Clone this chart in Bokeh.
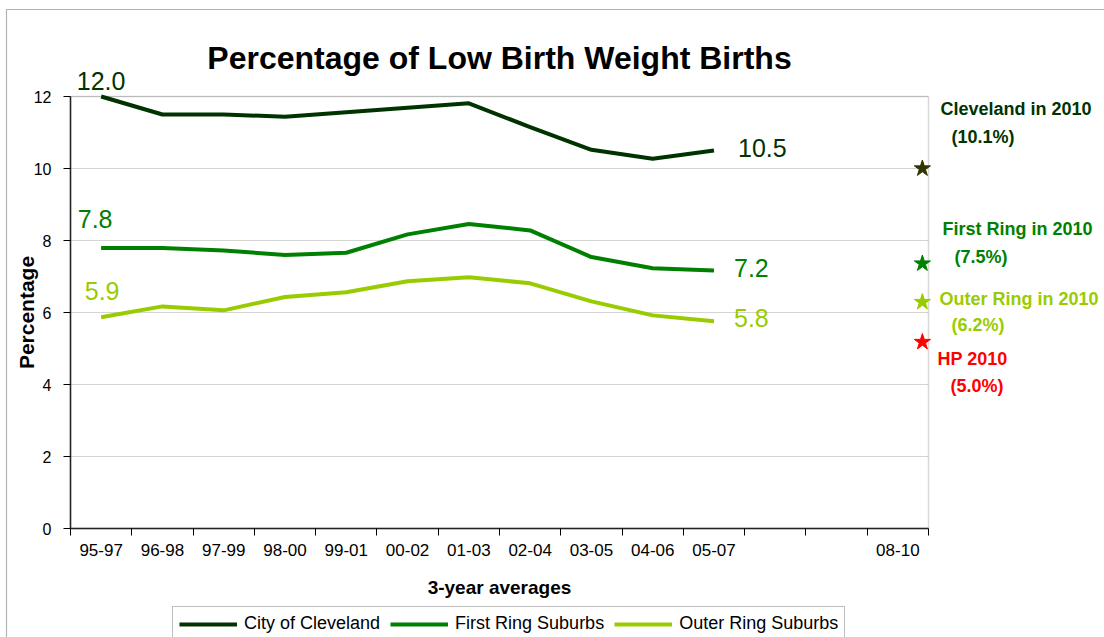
from bokeh.plotting import figure
from bokeh.models import (FixedTicker, Label, Legend, LegendItem, BoxAnnotation,
                          ColumnDataSource, Range1d)
from bokeh.transform import dodge
from bokeh.embed import file_html
from bokeh.resources import INLINE

# ---------------- data ----------------
periods = ["95-97", "96-98", "97-99", "98-00", "99-01", "00-02",
           "01-03", "02-04", "03-05", "04-06", "05-07"]
axis_labels = periods + ["", "", "08-10"]
target_label = "08-10"

cleveland = [12.0, 11.5, 11.5, 11.44, 11.56, 11.69, 11.81, 11.15, 10.52, 10.27, 10.5]
first_ring = [7.79, 7.79, 7.72, 7.60, 7.66, 8.17, 8.46, 8.28, 7.54, 7.23, 7.17]
outer_ring = [5.87, 6.17, 6.06, 6.43, 6.56, 6.87, 6.98, 6.81, 6.31, 5.92, 5.76]

series_names = ["City of Cleveland", "First Ring Suburbs", "Outer Ring Suburbs"]

star_values = [10.0, 7.36, 6.29, 5.18]
star_titles = ["Cleveland in 2010", "First Ring in 2010", "Outer Ring in 2010", "HP 2010"]
star_pcts = ["(10.1%)", "(7.5%)", "(6.2%)", "(5.0%)"]

y_ticks = [0, 2, 4, 6, 8, 10, 12]

# ---------------- styles / layout ----------------
DARK = "#003300"
GREEN = "#008000"
LIME = "#99CC00"
RED = "#FF0000"
STAR_DARK = "#333300"
FONT = "Liberation Sans"

W, H = 1104, 637
# plot-area box on the canvas (pixels)
PA_L, PA_R, PA_T, PA_B = 70, 928, 96, 528
n_cat = len(axis_labels)
X0, X1 = -0.5, n_cat - 0.5
Y0, Y1 = y_ticks[0], y_ticks[-1]
PX_X = (PA_R - PA_L) / (X1 - X0)
PX_Y = (PA_B - PA_T) / (Y1 - Y0)


def xd(px):
    return X0 + (px - PA_L) / PX_X


def yd(py):
    return Y0 + (PA_B - py) / PX_Y


x_idx = list(range(len(periods)))
target_idx = axis_labels.index(target_label)

p = figure(width=W, height=H, output_backend="svg", toolbar_location=None,
           x_range=Range1d(xd(0), xd(W)), y_range=Range1d(yd(H), yd(0)),
           min_border=0)
p.title = None
p.background_fill_color = "white"
p.border_fill_color = "white"
p.outline_line_color = None

# axes placed inside the canvas-wide frame
p.yaxis.fixed_location = X0
p.yaxis.bounds = (Y0, Y1)
p.yaxis.ticker = FixedTicker(ticks=y_ticks)
p.yaxis.major_tick_out = 7
p.yaxis.major_tick_in = 0
p.yaxis.minor_tick_line_color = None
p.yaxis.major_label_standoff = 12
p.yaxis.major_label_text_font = FONT
p.yaxis.major_label_text_font_size = "16px"
p.yaxis.major_label_text_color = "black"
p.yaxis.axis_label = "Percentage"
p.yaxis.axis_label_text_font = FONT
p.yaxis.axis_label_text_font_size = "21px"
p.yaxis.axis_label_text_font_style = "bold"
p.yaxis.axis_label_text_color = "black"
p.yaxis.axis_label_standoff = -7

p.xaxis.fixed_location = Y0
p.xaxis.bounds = (X0, X1)
p.xaxis.ticker = FixedTicker(ticks=x_idx + [target_idx],
                             minor_ticks=[k - 0.5 for k in range(n_cat + 1)])
p.xaxis.major_label_overrides = {i: axis_labels[i] for i in x_idx + [target_idx]}
p.xaxis.major_tick_out = 0
p.xaxis.major_tick_in = 0
p.xaxis.minor_tick_out = 7
p.xaxis.minor_tick_in = 0
p.xaxis.minor_tick_line_color = "black"
p.xaxis.major_label_standoff = 8
p.xaxis.major_label_text_font = FONT
p.xaxis.major_label_text_font_size = "17px"
p.xaxis.major_label_text_color = "black"
p.xaxis.axis_label = "3-year averages"
p.xaxis.axis_label_text_font = FONT
p.xaxis.axis_label_text_font_size = "19px"
p.xaxis.axis_label_text_font_style = "bold"
p.xaxis.axis_label_text_color = "black"
p.xaxis.axis_label_standoff = 18

for ax in (p.xaxis[0], p.yaxis[0]):
    ax.axis_line_color = "#222222"
    ax.axis_line_width = 1.5
    ax.major_tick_line_color = "black"

p.xgrid.visible = False
p.ygrid.grid_line_color = "#d4d4d4"
p.ygrid.grid_line_width = 1
try:
    p.ygrid.cross_bounds = (X0, X1)
except Exception:
    p.ygrid.visible = False
    p.segment(x0=[X0] * len(y_ticks), x1=[X1] * len(y_ticks), y0=y_ticks, y1=y_ticks,
              line_color="#d4d4d4", line_width=1, level="underlay")

# plot-area border (gray)
p.add_layout(BoxAnnotation(left=X0, right=X1, bottom=Y0, top=Y1, fill_alpha=0,
                           line_color="#808080", line_width=1.5, level="underlay"))

# outer chart border (black)
p.add_layout(BoxAnnotation(left=xd(6), right=xd(W + 50), top=yd(9), bottom=yd(H + 50),
                           fill_alpha=0, line_color="black", line_width=1.2,
                           level="underlay"))

# title
p.add_layout(Label(x=(X0 + X1) / 2, y=yd(57), text="Percentage of Low Birth Weight Births",
                   text_align="center", text_baseline="middle", text_font=FONT,
                   text_font_size="32px", text_font_style="bold", text_color="black"))

# lines
renderers = []
for vals, col in zip([cleveland, first_ring, outer_ring], [DARK, GREEN, LIME]):
    r = p.line(x_idx, vals, line_width=4, line_color=col, line_join="round")
    renderers.append(r)

legend = Legend(items=[LegendItem(label=n, renderers=[r]) for n, r in zip(series_names, renderers)],
                orientation="horizontal", location=(172, -4),
                glyph_width=58, glyph_height=20, label_standoff=7, spacing=10,
                padding=6, margin=0, border_line_color="#808080", border_line_width=1.5,
                label_text_font=FONT, label_text_font_size="18px", label_text_color="black",
                background_fill_color="white")
p.add_layout(legend)

# data labels (first and last points)
LBL = 25
first_offsets = [(0, 15.5), (-6, 29), (1, 26)]
last_offsets = [(24, 3), (20, 2.5), (20, 3)]
for vals, col, fo, lo in zip([cleveland, first_ring, outer_ring], [DARK, GREEN, LIME],
                             first_offsets, last_offsets):
    p.add_layout(Label(x=0, y=vals[0], text=f"{vals[0]:.1f}", x_offset=fo[0], y_offset=fo[1],
                       text_align="center", text_baseline="middle", text_font=FONT,
                       text_font_size=f"{LBL}px", text_color=col))
    p.add_layout(Label(x=len(vals) - 1, y=vals[-1], text=f"{vals[-1]:.1f}", x_offset=lo[0],
                       y_offset=lo[1], text_align="left", text_baseline="middle",
                       text_font=FONT, text_font_size=f"{LBL}px", text_color=col))

# 2010 stars
star_colors = [STAR_DARK, GREEN, LIME, RED]
star_src = ColumnDataSource(dict(x=[target_idx] * len(star_values), y=star_values,
                                 c=star_colors))
p.scatter(x=dodge("x", 0.4), y="y", source=star_src, marker="star", size=17,
          fill_color="c", line_color="c")

# annotation texts to the right of the plot area (pixel layout on canvas)
text_colors = [DARK, GREEN, LIME, RED]
title_px = [(940, 108.5), (942, 228), (939, 298), (937, 358)]
pct_px = [(951, 136), (954, 256), (951, 324), (950, 385)]
for t, pc, col, (tx, ty), (px_, py) in zip(star_titles, star_pcts, text_colors,
                                            title_px, pct_px):
    p.add_layout(Label(x=xd(tx), y=yd(ty), text=t,
                       text_align="left", text_baseline="middle", text_font=FONT,
                       text_font_size="18px", text_font_style="bold", text_color=col))
    p.add_layout(Label(x=xd(px_), y=yd(py), text=pc,
                       text_align="left", text_baseline="middle", text_font=FONT,
                       text_font_size="18px", text_font_style="bold", text_color=col))

open("out.html", "w").write(file_html(p, INLINE))
